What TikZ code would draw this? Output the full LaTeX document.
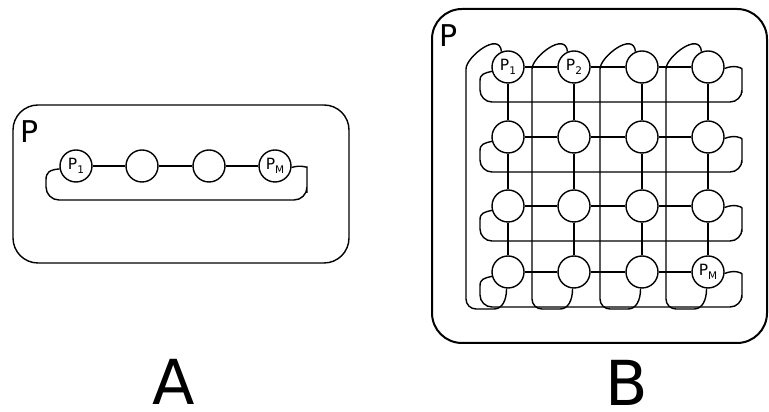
\documentclass[tikz,border=0pt]{standalone}
\usepackage{fontspec}
\setmainfont{DejaVu Sans}
\usetikzlibrary{calc}
\newcommand{\procname}[1]{P\raisebox{-0.45ex}{\fontsize{10.5}{10.5}\selectfont #1}}

\begin{document}
\begin{tikzpicture}[x=1pt, y=1pt, line width=1.4pt,
    proc/.style={circle, draw, minimum size=32pt, inner sep=0pt, font=\fontsize{15.5}{15.5}\selectfont},
    tag/.style={inner sep=0pt, anchor=base west, font=\fontsize{30}{30}\selectfont},
    panel/.style={inner sep=0pt, anchor=base, font=\fontsize{62}{62}\selectfont}]
  \useasboundingbox (0,0) rectangle (769,412);

  % A: one row
  \draw[rounded corners=25] (13,149) rectangle (349,307);
  \node[tag] (tagA) at (20,269) {P};
  \node[proc] (a1) at (76,246) {\procname{1}};
  \node[proc] (a2) at (142,246) {};
  \node[proc] (a3) at (209,246) {};
  \node[proc] (a4) at (275,246) {\procname{M}};
  \foreach \i/\k in {1/2,2/3,3/4}
    \draw (a\i) -- (a\k);
  \draw (a1.190) .. controls +(-10,-1) and +(0,8) .. (46,232) [rounded corners=13] -- (46,212)
    -- (307,212) -- (307,232) [sharp corners] .. controls +(0,12) and +(10,3) .. (a4.-5);
  \node[panel] (labA) at (174,7) {A};

  % B: grid with wrap-around
  \draw[line width=2pt, rounded corners=30] (432,69) rectangle (767,403);
  \node[tag] (tagB) at (439,365) {P};
  \foreach \i/\y in {1/345,2/275,3/206,4/140}
    \foreach \j/\x in {1/508,2/574,3/642,4/708}
      \node[proc] (b\i\j) at (\x,\y)
        {\ifnum\i\j=11 \procname{1}\fi\ifnum\i\j=12 \procname{2}\fi\ifnum\i\j=44 \procname{M}\fi};
  \foreach \i in {1,...,4}
    \foreach \j/\k in {1/2,2/3,3/4} {
      \draw (b\i\j) -- (b\i\k);
      \draw (b\j\i) -- (b\k\i);
    }
  \foreach \i in {1,...,4}
    \draw (b\i1.195) .. controls +(-8,-2) and +(0,7) .. ($(b\i1)+(-28,-14)$)
      [rounded corners=12] -- ($(b\i1)+(-28,-35)$) -- ($(b\i4)+(34,-35)$) -- ($(b\i4)+(34,-14)$)
      [sharp corners] .. controls +(0,13) and +(10,4) .. (b\i4.-5);
  \foreach \j in {1,...,4}
    \draw (b4\j.-95) .. controls +(0,-12) and +(8,0) .. ($(b4\j)+(-14,-37)$)
      [rounded corners=10] -- ($(b4\j)+(-42,-37)$) -- ($(b1\j)+(-42,-12)$)
      [sharp corners] .. controls +(0,22) and +(-2,21) .. (b1\j.113);
  \node[panel] (labB) at (627,6) {B};
\end{tikzpicture}
\end{document}
